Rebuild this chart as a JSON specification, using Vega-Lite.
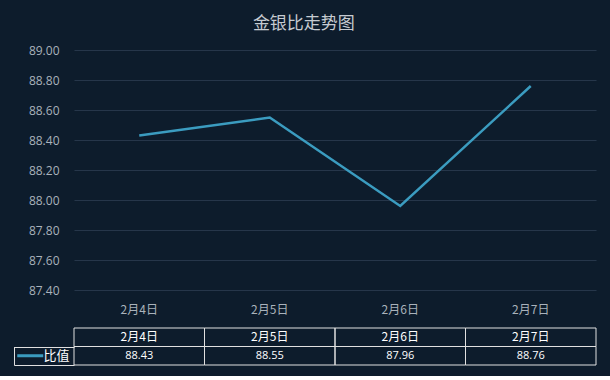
{
  "$schema": "https://vega.github.io/schema/vega-lite/v6.json",
  "background": "#0d1c2c",
  "padding": {"left": 11, "top": 15, "right": 13, "bottom": 10},
  "config": {"view": {"stroke": null}, "font": "'Open Sans', 'Noto Sans CJK SC', sans-serif"},
  "title": {"text": "金银比走势图", "fontSize": 17, "fontWeight": "normal", "color": "#c6cbd1", "anchor": "middle", "offset": 11, "font": "'Noto Sans CJK SC', sans-serif"},
  "data": {"values": [
    {"date": "2月4日", "value": 88.43},
    {"date": "2月5日", "value": 88.55},
    {"date": "2月6日", "value": 87.96},
    {"date": "2月7日", "value": 88.76}
  ]},
  "spacing": 7,
  "vconcat": [
    {
      "width": 522,
      "height": 240,
      "mark": {"type": "line", "color": "#3b9cc0", "strokeWidth": 2.5},
      "encoding": {
        "x": {"field": "date", "type": "ordinal", "sort": null,
              "scale": {"type": "band", "paddingInner": 0, "paddingOuter": 0},
              "axis": {"title": null, "labelAngle": 0, "ticks": false, "domain": false, "labelColor": "#a9b2bb", "labelFontSize": 12, "labelPadding": 14, "labelFont": "'Noto Sans CJK SC', sans-serif"}},
        "y": {"field": "value", "type": "quantitative",
              "scale": {"domain": [87.4, 89.0], "zero": false, "nice": false},
              "axis": {"title": null, "values": [87.4, 87.6, 87.8, 88.0, 88.2, 88.4, 88.6, 88.8, 89.0], "format": ".2f", "ticks": false, "domain": false, "gridColor": "#26364a", "gridOpacity": 1, "labelColor": "#a9b2bb", "labelFontSize": 12, "labelPadding": 15, "minExtent": 60}}
      }
    },
    {
      "width": 522,
      "height": 37,
      "encoding": {
        "x": {"field": "date", "type": "ordinal", "sort": null, "scale": {"type": "band", "paddingInner": 0, "paddingOuter": 0}, "axis": null}
      },
      "resolve": {"scale": {"y": "independent"}, "axis": {"y": "independent"}},
      "layer": [
        {
          "layer": [
            {
              "mark": {"type": "rect", "fill": "transparent", "stroke": "#e0e0e0", "strokeWidth": 1},
              "encoding": {"y": {"datum": "h", "type": "nominal", "scale": {"type": "band", "domain": ["h", "v"], "paddingInner": 0, "paddingOuter": 0}, "axis": null}}
            },
            {
              "mark": {"type": "rect", "fill": "transparent", "stroke": "#e0e0e0", "strokeWidth": 1},
              "encoding": {"y": {"datum": "v", "type": "nominal"}}
            },
            {
              "mark": {"type": "text", "fontSize": 12, "color": "#ffffff", "font": "'Noto Sans CJK SC', sans-serif"},
              "encoding": {"y": {"datum": "h", "type": "nominal"}, "text": {"field": "date"}}
            },
            {
              "mark": {"type": "text", "fontSize": 11, "color": "#ffffff"},
              "encoding": {"y": {"datum": "v", "type": "nominal"}, "text": {"field": "value", "format": ".2f"}}
            }
          ]
        },
        {
          "data": {"values": [{"series": "比值", "first": "2月4日"}]},
          "mark": {"type": "point", "shape": "stroke", "size": 676, "strokeWidth": 3, "color": "#3b9cc0", "opacity": 1, "xOffset": -109},
          "encoding": {
            "x": {"field": "first", "type": "ordinal"},
            "y": {"field": "series", "type": "nominal",
                  "scale": {"type": "band", "domain": ["比值"], "range": [18.5, 37], "paddingInner": 0, "paddingOuter": 0},
                  "axis": {"title": null, "orient": "left", "offset": 60, "domain": true, "domainColor": "#e0e0e0", "domainWidth": 1,
                           "ticks": true, "tickBand": "extent", "tickSize": -60, "tickColor": "#e0e0e0", "tickWidth": 1,
                           "labelColor": "#ffffff", "labelFontSize": 13, "labelPadding": 5, "labelFont": "'Noto Sans CJK SC', sans-serif", "grid": false}}
          }
        }
      ]
    }
  ]
}
